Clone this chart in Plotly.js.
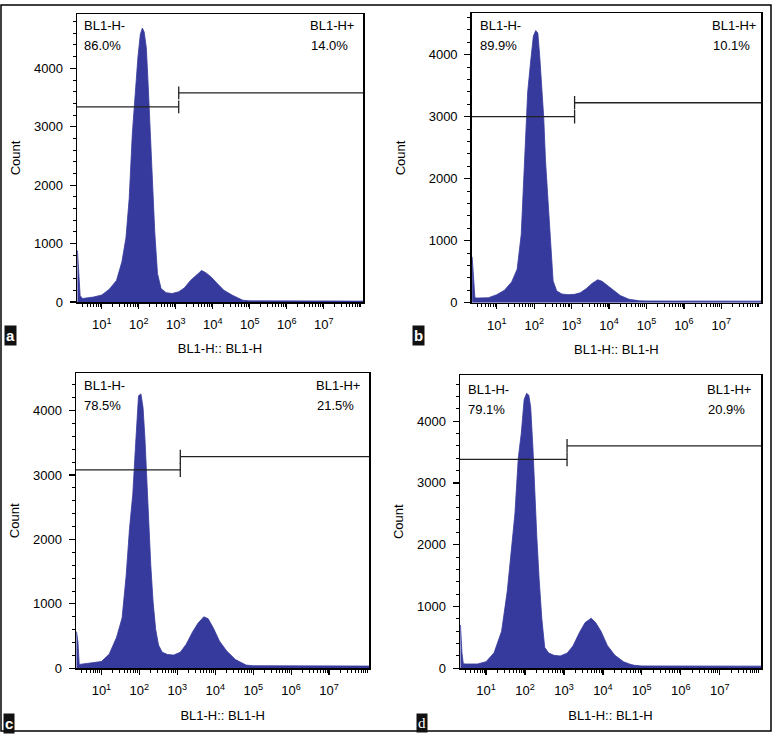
<!DOCTYPE html>
<html><head><meta charset="utf-8">
<script src="https://cdn.plot.ly/plotly-3.0.1.min.js"></script>
<style>html,body{margin:0;padding:0;background:#fff;} #chart{width:774px;height:734px;}</style>
</head><body><div id="chart"></div>
<script>
// BL1-H intensity (bin positions) shared by the four histograms
const intensity = [2.2, 2.4, 2.6, 3, 6, 10, 16, 25, 35, 45,
  55, 67, 80, 95, 110, 125, 140, 160, 180, 200,
  230, 270, 320, 400, 550, 800, 1200, 1700, 2500, 3500,
  5000, 6500, 9000, 13000, 20000, 34000, 50000, 65000, 100000, 120000000];
const countA = [880, 450, 110, 60, 85, 120, 220, 370, 690, 1100,
  1770, 2890, 3570, 4200, 4580, 4690, 4620, 4350, 3700, 3050,
  2080, 1200, 490, 230, 160, 145, 175, 240, 370, 460,
  540, 500, 430, 320, 200, 115, 58, 30, 20, 15];
const countB = [740, 400, 80, 75, 80, 130, 200, 335, 540, 1100,
  2320, 3400, 3880, 4300, 4390, 4350, 3990, 3400, 2980, 2300,
  1720, 900, 350, 190, 140, 130, 135, 160, 230, 310,
  370, 345, 280, 200, 115, 56, 35, 30, 28, 25];
const countC = [570, 420, 60, 65, 80, 105, 220, 480, 780, 1450,
  2170, 2700, 3500, 4230, 4260, 4050, 3580, 2800, 2100, 1600,
  1030, 600, 360, 250, 215, 205, 250, 370, 560, 700,
  800, 770, 620, 420, 270, 135, 85, 50, 40, 35];
const countD = [700, 250, 75, 70, 70, 108, 250, 600, 1250, 1900,
  2500, 3400, 3800, 4350, 4450, 4420, 4220, 3550, 2650, 2150,
  1450, 800, 340, 250, 210, 200, 245, 360, 580, 740,
  810, 740, 595, 370, 215, 105, 65, 48, 38, 35];

const panelLetters = ['a', 'b', 'c', 'd'];
const negLabel = 'BL1-H-';
const posLabel = 'BL1-H+';
const negPct = ['86.0%', '89.9%', '78.5%', '79.1%'];
const posPct = ['14.0%', '10.1%', '21.5%', '20.9%'];
const gateX = 1200;
const gateNegY = [3340, 3000, 3080, 3380];
const gatePosY = [3580, 3225, 3285, 3600];
const yTop = [4930, 4668, 4580, 4746];

const xTickVals = [10, 100, 1000, 10000, 100000, 1000000, 10000000];
const xTickText = ['10<sup>1</sup>', '10<sup>2</sup>', '10<sup>3</sup>', '10<sup>4</sup>', '10<sup>5</sup>', '10<sup>6</sup>', '10<sup>7</sup>'];
const yTickVals = [0, 1000, 2000, 3000, 4000];
const xTitle = 'BL1-H:: BL1-H';
const yTitle = 'Count';

// layout geometry (pixels)
const W = 774, H = 734;
const boxes = [ // left, right, top, bottom
  [77, 363, 14, 302],
  [471.7, 761, 13.3, 302.7],
  [76, 369.3, 373.3, 668.3],
  [460, 761, 375, 668.3]
];
const xRange = [0.33, 8.06];
const counts = [countA, countB, countC, countD];
const fillColor = '#363a9c';
const font = 'Arial, "Liberation Sans", sans-serif';
const txt = '#000';

const data = [];
const layout = {
  width: W, height: H, margin: {l: 0, r: 0, t: 0, b: 0},
  paper_bgcolor: '#fff', plot_bgcolor: '#fff', showlegend: false,
  font: {family: font, color: txt, size: 13},
  annotations: [], shapes: []
};
const capHalf = 110;
const xMin = Math.pow(10, xRange[0]), xMax = Math.pow(10, xRange[1]);

counts.forEach((c, i) => {
  const n = i === 0 ? '' : String(i + 1);
  const xa = 'x' + n, ya = 'y' + n;
  data.push({
    type: 'scatter', mode: 'lines', x: intensity, y: c, xaxis: xa, yaxis: ya,
    line: {color: fillColor, width: 0.8}, fill: 'tozeroy', fillcolor: fillColor,
    hoverinfo: 'skip'
  });
  const gn = gateNegY[i], gp = gatePosY[i];
  data.push({
    type: 'scatter', mode: 'lines', xaxis: xa, yaxis: ya,
    x: [xMin, gateX, null, gateX, gateX, null, gateX, gateX, null, gateX, xMax],
    y: [gn, gn, null, gn - capHalf, gn + capHalf, null, gp - capHalf, gp + capHalf, null, gp, gp],
    line: {color: '#222', width: 1.3}, hoverinfo: 'skip'
  });
  const b = boxes[i];
  layout['xaxis' + n] = {
    type: 'log', range: xRange, domain: [b[0] / W, b[1] / W], anchor: ya,
    tickmode: 'array', tickvals: xTickVals, ticktext: xTickText,
    ticks: 'outside', ticklen: 5, tickwidth: 1.2, tickcolor: '#000',
    minor: {ticks: 'outside', ticklen: 3, tickwidth: 1, tickcolor: '#000', dtick: 'D1', showgrid: false},
    showline: true, linecolor: '#000', linewidth: 1.5, mirror: true,
    showgrid: false, zeroline: false, ticklabelstandoff: 5,
    tickfont: {family: font, size: 13, color: txt},
    title: {text: xTitle, font: {family: font, size: 13, color: txt}, standoff: 13}
  };
  layout['yaxis' + n] = {
    range: [0, yTop[i]], domain: [1 - b[3] / H, 1 - b[2] / H], anchor: xa,
    tickmode: 'array', tickvals: yTickVals,
    ticks: 'outside', ticklen: 6, tickwidth: 1.2, tickcolor: '#000',
    minor: {ticks: 'outside', ticklen: 3, tickwidth: 1, tickcolor: '#000', dtick: 200, tick0: 0, showgrid: false},
    showline: true, linecolor: '#000', linewidth: 1.5, mirror: true,
    showgrid: false, zeroline: false, ticklabelstandoff: 4,
    tickfont: {family: font, size: 13, color: txt},
    title: {text: yTitle, font: {family: font, size: 13, color: txt}, standoff: i === 1 ? 20 : 10}
  };
  const xd = xa + ' domain', yd = ya + ' domain';
  const lefts = [5, 6, 6, 6], rights = [-7, -3, -7, -8], tops = [-12, -12, -12, -14];
  layout.annotations.push(
    {xref: xd, yref: yd, x: 0, y: 1, xshift: lefts[i], yshift: tops[i], xanchor: 'left', yanchor: 'middle', text: negLabel, showarrow: false},
    {xref: xd, yref: yd, x: 0, y: 1, xshift: lefts[i], yshift: tops[i] - 20, xanchor: 'left', yanchor: 'middle', text: negPct[i], showarrow: false},
    {xref: xd, yref: yd, x: 1, y: 1, xshift: rights[i], yshift: tops[i], xanchor: 'right', yanchor: 'middle', text: posLabel, showarrow: false},
    {xref: xd, yref: yd, x: 1, y: 1, xshift: rights[i] - 6.5, yshift: tops[i] - 20, xanchor: 'right', yanchor: 'middle', text: posPct[i], showarrow: false}
  );
});

// panel letters
const letterPos = [[10, 335.5], [418, 335.5], [9, 723.5], [422, 722.5]];
panelLetters.forEach((t, i) => {
  layout.annotations.push({
    xref: 'paper', yref: 'paper', x: letterPos[i][0] / W, y: 1 - letterPos[i][1] / H,
    xanchor: 'center', yanchor: 'middle', text: t, showarrow: false,
    bgcolor: '#111', borderpad: 1,
    font: {family: i === 3 ? '"Liberation Serif", serif' : font, size: 15, color: '#fff', weight: i === 3 ? 'normal' : 'bold'}
  });
});

// outer frame
layout.shapes.push({type: 'rect', xref: 'paper', yref: 'paper', x0: 1 / W, x1: 771 / W, y0: 1 - 731 / H, y1: 1 - 5 / H,
  line: {color: '#000', width: 1.5}, fillcolor: 'rgba(0,0,0,0)', layer: 'below'});

Plotly.newPlot('chart', data, layout, {staticPlot: true, displayModeBar: false});
</script>
</body></html>
